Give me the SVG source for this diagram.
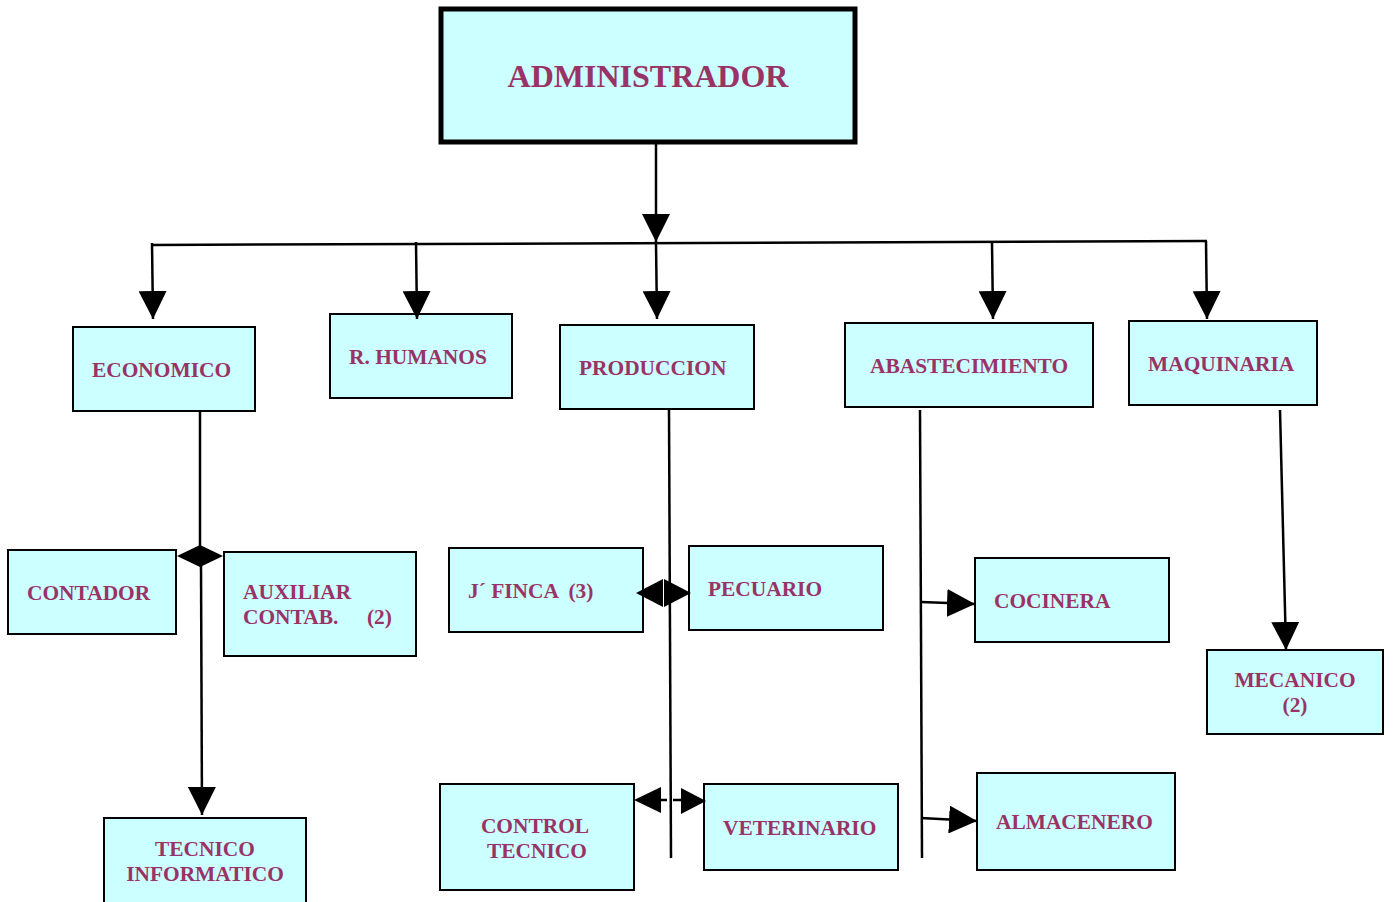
<svg xmlns="http://www.w3.org/2000/svg" width="1393" height="902" viewBox="0 0 1393 902">
<style>
.box{fill:#CCFFFF;stroke:#000;stroke-width:2}
.t{font-family:"Liberation Serif","Times New Roman",serif;font-weight:bold;font-size:21.4px;fill:#993366}
.c{text-anchor:middle}
.ln{stroke:#000;stroke-width:2.5;fill:none}
.ah{fill:#000}
</style>
<defs>
<marker id="arr" viewBox="0 0 28 28" refX="28" refY="14" markerWidth="28" markerHeight="28" markerUnits="userSpaceOnUse" orient="auto">
<path d="M0,0 L28,14 L0,28 Z" fill="#000"/>
</marker>
</defs>
<rect width="1393" height="902" fill="#fff"/>
<g id="administrador">
<rect x="441" y="9" width="414" height="133" fill="#CCFFFF" stroke="#000" stroke-width="5"/>
<text class="t c" x="648" y="87" style="font-size:32px">ADMINISTRADOR</text>
</g>
<g id="economico">
<rect class="box" x="73" y="327" width="182" height="84"/>
<text class="t" x="92" y="377">ECONOMICO</text>
</g>
<g id="rhumanos">
<rect class="box" x="330" y="314" width="182" height="84"/>
<text class="t" x="349" y="364">R. HUMANOS</text>
</g>
<g id="produccion">
<rect class="box" x="560" y="325" width="194" height="84"/>
<text class="t" x="579" y="375">PRODUCCION</text>
</g>
<g id="abastecimiento">
<rect class="box" x="845" y="323" width="248" height="84"/>
<text class="t" x="870" y="373">ABASTECIMIENTO</text>
</g>
<g id="maquinaria">
<rect class="box" x="1129" y="321" width="188" height="84"/>
<text class="t" x="1148" y="371">MAQUINARIA</text>
</g>
<g id="contador">
<rect class="box" x="8" y="550" width="168" height="84"/>
<text class="t" x="27" y="600">CONTADOR</text>
</g>
<g id="auxiliar">
<rect class="box" x="224" y="552" width="192" height="104"/>
<text class="t" x="243" y="599">AUXILIAR</text>
<text class="t" x="243" y="624">CONTAB.<tspan x="367">(2)</tspan></text>
</g>
<g id="jfinca">
<rect class="box" x="449" y="548" width="194" height="84"/>
<text class="t" x="468" y="598" xml:space="preserve">J´ FINCA  (3)</text>
</g>
<g id="pecuario">
<rect class="box" x="689" y="546" width="194" height="84"/>
<text class="t" x="708" y="596">PECUARIO</text>
</g>
<g id="cocinera">
<rect class="box" x="975" y="558" width="194" height="84"/>
<text class="t" x="994" y="608">COCINERA</text>
</g>
<g id="mecanico">
<rect class="box" x="1207" y="650" width="176" height="84"/>
<text class="t c" x="1295" y="687">MECANICO</text>
<text class="t c" x="1295" y="712">(2)</text>
</g>
<g id="tecnico">
<rect class="box" x="104" y="818" width="202" height="90"/>
<text class="t c" x="205" y="856">TECNICO</text>
<text class="t c" x="205" y="881">INFORMATICO</text>
</g>
<g id="control">
<rect class="box" x="440" y="784" width="194" height="106"/>
<text class="t c" x="535" y="833">CONTROL</text>
<text class="t c" x="537" y="858">TECNICO</text>
</g>
<g id="veterinario">
<rect class="box" x="704" y="784" width="194" height="86"/>
<text class="t" x="723" y="835">VETERINARIO</text>
</g>
<g id="almacenero">
<rect class="box" x="977" y="773" width="198" height="97"/>
<text class="t" x="996" y="829">ALMACENERO</text>
</g>
<g id="connectors">
<line class="ln" x1="656" y1="144" x2="656" y2="242" marker-end="url(#arr)"/>
<line class="ln" x1="152" y1="245" x2="1207" y2="241"/>
<line class="ln" x1="152" y1="243" x2="153" y2="319" marker-end="url(#arr)"/>
<line class="ln" x1="416" y1="242" x2="417" y2="319" marker-end="url(#arr)"/>
<line class="ln" x1="656" y1="244" x2="657" y2="319" marker-end="url(#arr)"/>
<line class="ln" x1="992" y1="243" x2="993" y2="319" marker-end="url(#arr)"/>
<line class="ln" x1="1206" y1="241" x2="1207" y2="319" marker-end="url(#arr)"/>
<line class="ln" x1="200" y1="412" x2="200" y2="548"/>
<polygon class="ah" points="177,556 200,545 223,556 200,567"/>
<line class="ln" x1="201" y1="564" x2="202" y2="815" marker-end="url(#arr)"/>
<line class="ln" x1="669" y1="410" x2="671" y2="858"/>
<polygon class="ah" points="636,593 663,579 663,607"/>
<polygon class="ah" points="691,593 664,579 664,607"/>
<polygon class="ah" points="634,800 661,787 661,813"/>
<line class="ln" x1="661" y1="800" x2="667" y2="800"/>
<line class="ln" x1="673" y1="800" x2="681" y2="800"/>
<polygon class="ah" points="706,801 681,788 681,814"/>
<line class="ln" x1="920" y1="410" x2="922" y2="858"/>
<line class="ln" x1="921" y1="602" x2="975" y2="604" marker-end="url(#arr)"/>
<line class="ln" x1="921" y1="818" x2="977" y2="821" marker-end="url(#arr)"/>
<line class="ln" x1="1280" y1="410" x2="1286" y2="650" marker-end="url(#arr)"/>
</g>
</svg>
